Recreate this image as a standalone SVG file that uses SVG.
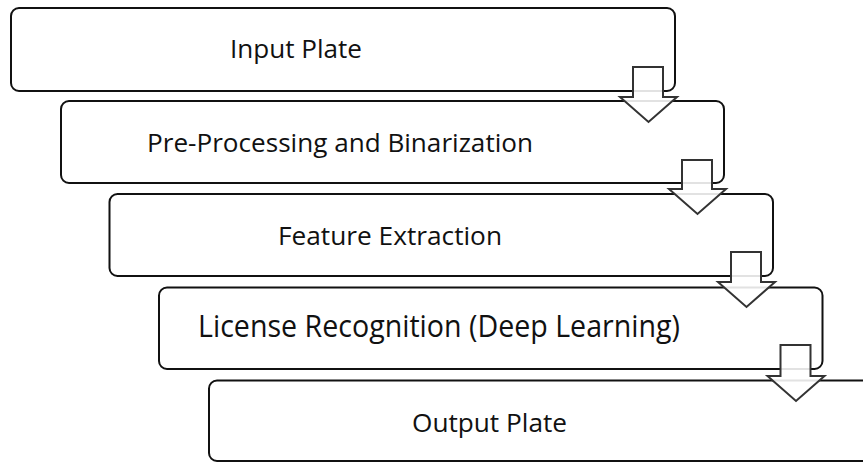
<svg xmlns="http://www.w3.org/2000/svg" width="863" height="462" viewBox="0 0 863 462">
<style>
.box{fill:#fff;stroke:#111;stroke-width:2}
.arr{fill:#fff;fill-opacity:0.88;stroke:#333;stroke-width:2;stroke-linejoin:miter}
.t{font-family:"Open Sans","Noto Sans","DejaVu Sans",sans-serif;font-size:26px;fill:#111}
</style>
<rect width="863" height="462" fill="#fff"/>
<g id="node1"><rect class="box" x="11" y="8" width="664" height="83" rx="8"/><text class="t" x="230" y="58" textLength="132" lengthAdjust="spacingAndGlyphs">Input Plate</text></g>
<g id="node2"><rect class="box" x="61" y="101" width="663" height="82" rx="8"/><text class="t" x="147" y="152" textLength="386" lengthAdjust="spacingAndGlyphs">Pre-Processing and Binarization</text></g>
<g id="node3"><rect class="box" x="109.5" y="194" width="663.5" height="82" rx="8"/><text class="t" x="278" y="245" textLength="224" lengthAdjust="spacingAndGlyphs">Feature Extraction</text></g>
<g id="node4"><rect class="box" x="159" y="287.5" width="663.5" height="81.5" rx="8"/><text class="t" x="198" y="337" style="font-size:31px" textLength="482" lengthAdjust="spacingAndGlyphs">License Recognition (Deep Learning)</text></g>
<g id="node5"><rect class="box" x="209" y="380.5" width="700" height="80.5" rx="8"/><text class="t" x="412" y="432" textLength="155" lengthAdjust="spacingAndGlyphs">Output Plate</text></g>
<g id="connectors">
<path class="arr" d="M633,67 H663 V97 H677 L648.5,122 L620,97 H633 Z"/>
<path class="arr" d="M682,160 H712 V189 H726 L697.5,214 L669,189 H682 Z"/>
<path class="arr" d="M731,252 H761 V282 H775 L746.5,307 L718,282 H731 Z"/>
<path class="arr" d="M780.5,345 H810.5 V376 H824.5 L796,401 L767.5,376 H780.5 Z"/>
</g>
</svg>
